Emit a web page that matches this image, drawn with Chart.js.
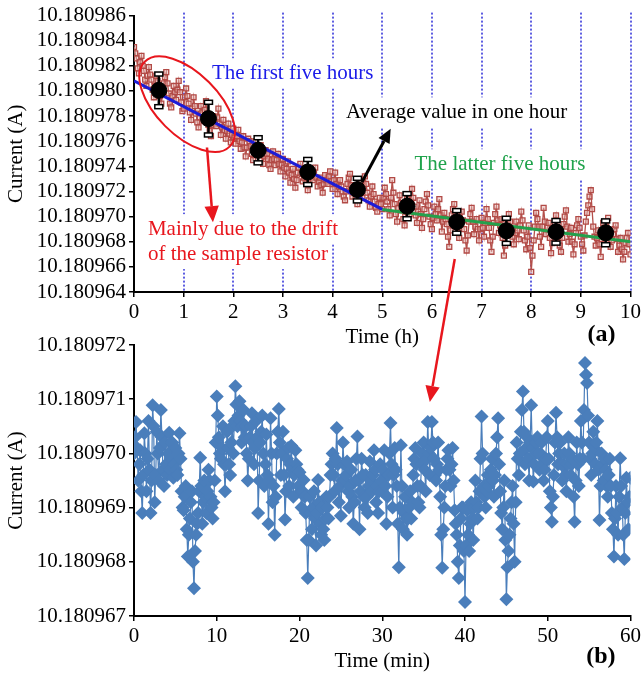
<!DOCTYPE html>
<html>
<head>
<meta charset="utf-8">
<script src="https://cdn.jsdelivr.net/npm/chart.js@4.4.1/dist/chart.umd.min.js"></script>
<style>
  html, body { margin: 0; padding: 0; background: #fff; }
  #wrap { position: relative; width: 644px; height: 679px; }
  canvas { position: absolute; left: 0; top: 0; }
</style>
</head>
<body>
<div id="wrap">
  <canvas id="chartA" width="644" height="679"></canvas>
  <canvas id="chartB" width="644" height="679"></canvas>
</div>
<script>
// --- DATA ---
// all currents are kept in µA above BASE_A, the labels add it back
const BASE_A = 10.18096;

// (a) raw record, one reading every 0.025 h (40 per row = 1 h)
const RAW_STEP_H = 0.025;
const rawA = [
  23.5, 23.0, 22.6, 21.8, 21.4, 22.3, 22.8, 22.0, 21.6, 20.9, 20.4, 21.2, 21.9, 21.3, 20.9, 20.1, 19.5, 20.4, 21.2, 20.8,
  20.3, 19.6, 19.0, 19.9, 20.6, 21.1, 21.5, 20.6, 19.8, 19.0, 18.7, 19.6, 20.4, 19.9, 19.3, 20.1, 20.8, 19.9, 19.1, 18.4,
  18.6, 19.5, 20.2, 19.6, 19.0, 18.3, 17.7, 18.6, 19.5, 18.8, 18.2, 17.5, 17.1, 17.9, 18.8, 18.3, 17.6, 18.5, 19.2, 18.2,
  17.3, 16.8, 16.4, 17.3, 18.0, 17.6, 17.2, 17.9, 18.6, 17.4, 16.5, 17.1, 17.7, 16.9, 16.2, 16.8, 17.4, 16.6, 15.9, 16.5,
  17.0, 16.3, 15.8, 16.4, 16.9, 16.0, 15.4, 15.9, 16.4, 15.5, 14.8, 15.5, 16.2, 16.0, 15.6, 15.0, 14.5, 15.2, 16.0, 15.4,
  14.9, 15.3, 15.7, 14.9, 14.2, 14.8, 15.3, 15.0, 14.6, 14.1, 13.8, 14.5, 15.2, 14.6, 14.1, 14.5, 15.0, 14.2, 13.6, 14.1,
  14.6, 13.9, 13.2, 13.8, 14.4, 13.5, 12.7, 13.3, 13.8, 13.0, 12.3, 12.9, 13.5, 13.9, 14.2, 13.4, 12.8, 13.1, 13.4, 12.7,
  12.1, 12.9, 13.7, 13.2, 12.9, 13.5, 13.9, 13.1, 12.4, 12.8, 13.1, 12.5, 11.9, 12.6, 13.3, 12.9, 12.6, 13.2, 13.6, 12.8,
  12.2, 12.9, 13.5, 12.6, 11.8, 12.4, 12.9, 12.4, 12.0, 11.6, 11.3, 12.0, 12.6, 13.1, 13.4, 12.5, 11.6, 11.9, 12.2, 11.5,
  11.0, 11.9, 12.7, 12.0, 11.5, 12.4, 13.2, 12.6, 11.9, 11.3, 10.8, 11.6, 12.4, 11.8, 11.2, 10.7, 10.4, 11.0, 11.5, 11.0,
  10.6, 11.5, 12.3, 11.8, 11.2, 10.6, 10.1, 11.5, 12.9, 11.9, 11.0, 10.2, 9.6, 10.7, 11.7, 11.1, 10.5, 9.8, 9.3, 10.4,
  11.4, 10.8, 10.2, 11.2, 12.2, 11.5, 10.8, 10.1, 9.5, 10.4, 11.3, 10.2, 9.1, 9.8, 10.6, 11.2, 11.8, 10.9, 10.0, 9.4,
  9.0, 9.9, 10.8, 10.2, 9.7, 10.6, 11.4, 10.1, 8.8, 9.6, 10.3, 9.8, 9.4, 8.4, 7.6, 8.9, 10.1, 10.6, 11.0, 10.1,
  9.2, 8.7, 8.3, 9.4, 10.4, 9.7, 9.0, 8.1, 7.3, 8.5, 9.6, 10.2, 10.7, 9.6, 8.6, 9.2, 9.8, 9.0, 8.1, 9.0,
  9.9, 9.1, 8.4, 9.5, 10.6, 9.8, 9.1, 8.1, 7.2, 8.4, 9.5, 10.2, 10.8, 9.7, 8.7, 9.3, 9.8, 8.3, 6.9, 7.7,
  8.5, 9.4, 10.2, 9.6, 9.0, 8.4, 7.8, 8.7, 9.6, 8.9, 8.2, 9.3, 10.4, 9.7, 8.9, 8.1, 7.4, 8.4, 9.3, 7.5,
  5.6, 6.9, 8.1, 9.2, 10.3, 9.8, 9.2, 8.4, 7.6, 9.2, 10.7, 9.6, 8.6, 9.1, 9.5, 8.3, 7.1, 7.9, 8.8, 9.5,
  10.1, 9.2, 8.3, 7.7, 7.2, 8.3, 9.4, 10.0, 10.5, 9.2, 8.0, 8.6, 9.1, 8.0, 7.0, 7.8, 8.7, 9.3, 9.8, 9.1,
  8.4, 7.8, 7.3, 8.5, 9.6, 10.3, 10.9, 11.6, 12.1, 10.6, 9.2, 8.4, 7.7, 8.3, 8.9, 7.8, 6.8, 8.2, 9.5, 8.8,
  8.1, 9.0, 9.9, 8.7, 7.6, 8.1, 8.6, 9.0, 9.3, 8.2, 7.2, 7.7, 8.3, 7.4, 6.6, 7.2, 7.9, 8.3, 8.7, 7.8,
  7.0
];

// (a) hourly averages with their spread
const hourMid = [0.5, 1.5, 2.5, 3.5, 4.5, 5.5, 6.5, 7.5, 8.5, 9.5];
const hourMean = [20.05, 17.8, 15.28, 13.55, 12.15, 10.83, 9.58, 8.87, 8.79, 8.71];
const hourErr = [1.3, 1.3, 1.0, 1.0, 0.9, 1.0, 0.9, 1.0, 0.9, 0.95];

// (a) straight-line trends
const fitFirst = [[0, 20.8], [5, 10.57]];
const fitLatter = [[5, 10.57], [10, 8.0]];

// (a) hour markers
const hourMarks = [1, 2, 3, 4, 5, 6, 7, 8, 9, 10];

// (b) one hour of the latter record, one reading every 0.125 min (8 per row = 1 min)
const RAW_STEP_MIN = 0.125;
const currentB = [
  10.0, 10.3, 10.58, 10.1, 9.5, 9.8, 10.06, 9.3,
  8.9, 9.6, 10.37, 10.0, 9.3, 9.9, 10.6, 9.7,
  8.9, 9.5, 10.89, 10.5, 9.1, 9.6, 10.4, 10.0,
  9.5, 10.1, 10.8, 10.3, 9.7, 9.4, 10.2, 9.8,
  9.6, 10.0, 10.38, 9.7, 9.9, 10.2, 9.55, 9.8,
  10.1, 9.7, 9.6, 10.0, 10.37, 9.9, 9.3, 9.0,
  8.95, 9.2, 9.4, 8.6, 8.1, 8.5, 8.8, 9.1,
  9.3, 8.0, 7.51, 8.2, 8.5, 8.7, 8.9, 9.3,
  9.92, 9.4, 8.7, 9.1, 9.5, 9.2, 8.9, 9.3,
  9.7, 9.5, 9.2, 9.0, 8.8, 9.1, 9.5, 10.2,
  11.05, 10.7, 10.3, 10.0, 9.9, 10.1, 10.5, 9.8,
  9.3, 9.8, 10.4, 10.1, 9.8, 9.6, 10.2, 10.5,
  10.0, 10.6, 11.24, 10.9, 10.5, 10.7, 10.96, 10.6,
  10.2, 10.5, 10.8, 10.3, 10.5, 10.0, 9.5, 9.9,
  10.3, 10.5, 10.74, 10.2, 9.8, 10.1, 10.6, 10.3,
  8.9, 9.5, 10.2, 10.4, 10.7, 10.0, 9.4, 9.8,
  10.35, 9.6, 8.7, 9.5, 10.65, 10.0, 9.1, 9.4,
  8.5, 9.2, 10.0, 10.4, 10.82, 10.2, 9.6, 10.0,
  10.4, 9.6, 8.78, 9.3, 9.9, 10.1, 9.4, 9.8,
  10.14, 9.7, 9.2, 9.6, 10.06, 9.8, 9.7, 9.4,
  9.65, 9.3, 9.0, 9.3, 9.51, 9.2, 8.9, 8.4,
  7.7, 8.4, 9.2, 8.9, 8.6, 9.0, 9.3, 8.8,
  8.3, 8.9, 9.51, 9.1, 8.7, 8.5, 9.0, 8.6,
  8.4, 8.8, 9.2, 9.0, 8.8, 9.2, 9.6, 9.8,
  10.0, 9.6, 9.3, 9.9, 10.47, 9.8, 9.1, 9.4,
  8.85, 9.5, 10.2, 9.8, 9.5, 9.6, 9.85, 9.3,
  9.0, 9.4, 9.7, 9.2, 8.7, 9.1, 9.5, 9.9,
  10.31, 9.5, 8.6, 9.3, 9.9, 9.6, 9.2, 9.0,
  9.6, 9.2, 8.9, 9.4, 9.85, 9.5, 9.3, 9.6,
  10.06, 9.7, 9.1, 9.4, 8.9, 9.3, 9.8, 9.5,
  9.3, 9.7, 10.06, 9.4, 8.7, 9.2, 9.6, 10.0,
  10.56, 9.8, 9.0, 9.6, 10.1, 9.7, 9.4, 8.7,
  7.9, 9.0, 10.15, 9.4, 8.6, 8.9, 9.2, 8.8,
  8.5, 8.8, 9.0, 9.3, 8.8, 9.1, 9.6, 9.9,
  10.1, 9.8, 9.4, 9.1, 9.0, 9.4, 9.8, 10.0,
  10.2, 9.7, 9.3, 9.9, 10.58, 10.0, 9.6, 10.1,
  10.58, 10.2, 9.9, 9.6, 9.5, 9.8, 10.2, 9.7,
  9.2, 8.5, 7.89, 8.6, 9.0, 9.4, 9.7, 9.9,
  10.06, 9.7, 9.4, 9.8, 10.1, 9.5, 8.95, 8.7,
  8.5, 8.0, 7.7, 8.3, 8.8, 9.0, 9.0, 8.2,
  7.26, 8.3, 8.95, 8.5, 8.2, 8.7, 9.1, 8.8,
  8.4, 9.0, 9.5, 9.1, 8.8, 9.0, 9.3, 9.9,
  10.68, 10.0, 9.4, 9.2, 9.0, 9.3, 9.6, 9.4,
  9.5, 9.7, 9.9, 9.5, 9.2, 9.6, 10.0, 10.3,
  10.65, 9.8, 9.3, 8.9, 8.6, 9.0, 9.5, 8.4,
  7.31, 7.9, 8.2, 8.5, 8.8, 9.1, 9.4, 8.7,
  8.0, 9.1, 10.2, 9.9, 9.6, 10.0, 10.4, 10.8,
  11.14, 10.4, 9.8, 10.1, 10.3, 9.9, 9.5, 10.2,
  10.89, 10.1, 9.48, 9.8, 10.0, 10.2, 10.3, 10.0,
  9.7, 10.0, 10.2, 9.8, 9.5, 9.7, 9.9, 10.3,
  10.6, 9.9, 9.3, 9.0, 8.74, 9.2, 9.6, 10.2,
  10.75, 10.3, 9.8, 10.0, 10.2, 9.8, 9.5, 9.8,
  10.0, 9.6, 9.3, 9.8, 10.3, 10.0, 9.6, 9.8,
  9.9, 9.2, 8.74, 9.5, 10.2, 9.8, 9.4, 9.9,
  10.6, 10.2, 9.9, 10.8, 11.67, 11.45, 11.3, 10.7,
  10.2, 9.9, 9.6, 10.0, 10.4, 10.1, 9.8, 10.2,
  10.6, 9.7, 8.77, 9.4, 10.0, 9.8, 9.5, 9.9,
  9.7, 9.4, 9.2, 9.6, 9.9, 9.4, 8.9, 8.6,
  8.1, 8.8, 9.4, 8.9, 8.5, 9.2, 9.91, 9.4,
  9.0, 8.5, 8.05, 8.9, 9.55, 9.1, 8.6, 9.2,
  9.55
];

// --- NOTES ON PANEL (a), placed in data units ---
const notesA = [
  { text: 'The first five hours', x: 1.57, y: 21.4, color: '#1c1ce8' },
  { text: 'Average value in one hour', x: 4.27, y: 18.3, color: '#000000' },
  { text: 'The latter five hours', x: 5.65, y: 14.17, color: '#20a34c' },
  { text: 'Mainly due to the drift', x: 0.28, y: 9.0, color: '#e8161d' },
  { text: 'of the sample resistor', x: 0.28, y: 7.02, color: '#e8161d' }
];

// --- STYLE ---
const FAMILY = "'Liberation Serif', 'Times New Roman', serif";
const tickFont = { family: FAMILY, size: 21 };
const noteFont = `21px ${FAMILY}`;
Chart.defaults.font.family = FAMILY;
Chart.defaults.color = '#000';

const ampLabel = v => (BASE_A + v * 1e-6).toFixed(6);

function axisX(min, max, step, title, height) {
  return {
    type: 'linear', min, max,
    ticks: { stepSize: step, font: tickFont, color: '#000', padding: 3, maxRotation: 0, autoSkip: false },
    grid: { drawOnChartArea: false, drawTicks: true, tickLength: 5, color: '#000', lineWidth: 1.5 },
    border: { display: true, color: '#000', width: 2 },
    title: { display: true, text: title, font: tickFont, color: '#000', padding: { top: 0, bottom: 0 } },
    afterFit: s => { s.height = height; }
  };
}

function axisY(min, max, step) {
  return {
    min, max,
    ticks: { stepSize: step, font: tickFont, color: '#000', padding: 3, autoSkip: false, callback: ampLabel },
    grid: { drawOnChartArea: false, drawTicks: true, tickLength: 5, color: '#000', lineWidth: 1.5 },
    border: { display: true, color: '#000', width: 2 },
    title: { display: true, text: 'Current (A)', font: tickFont, color: '#000', padding: { top: 4, bottom: 0 } },
    afterFit: s => { s.width = 134; }
  };
}

function arrow(ctx, x0, y0, x1, y1, color, width, head) {
  const ang = Math.atan2(y1 - y0, x1 - x0);
  const bx = x1 - Math.cos(ang) * head, by = y1 - Math.sin(ang) * head;
  ctx.save();
  ctx.strokeStyle = color; ctx.fillStyle = color; ctx.lineWidth = width;
  ctx.beginPath(); ctx.moveTo(x0, y0); ctx.lineTo(bx, by); ctx.stroke();
  const w = head * 0.45;
  ctx.beginPath();
  ctx.moveTo(x1, y1);
  ctx.lineTo(bx + Math.sin(ang) * w, by - Math.cos(ang) * w);
  ctx.lineTo(bx - Math.sin(ang) * w, by + Math.cos(ang) * w);
  ctx.closePath(); ctx.fill();
  ctx.restore();
}

// --- PANEL (a) DRAWING ---
const panelA = {
  id: 'panelA',
  beforeDatasetsDraw(chart) {
    const { ctx, chartArea: a, scales: { x, y } } = chart;
    ctx.save();
    ctx.strokeStyle = '#2a2ad8';
    ctx.lineWidth = 1.5;
    ctx.setLineDash([2, 2]);
    hourMarks.forEach(h => {
      const px = Math.round(x.getPixelForValue(h));
      ctx.beginPath(); ctx.moveTo(px, a.top - 3); ctx.lineTo(px, a.bottom); ctx.stroke();
    });
    ctx.setLineDash([]);
    // blank out behind the notes so the hour lines break around them
    ctx.font = noteFont;
    ctx.fillStyle = '#fff';
    notesA.forEach(n => {
      const w = ctx.measureText(n.text).width;
      ctx.fillRect(x.getPixelForValue(n.x) - 4, y.getPixelForValue(n.y) - 15, w + 8, 30);
    });
    ctx.restore();
  },
  afterDatasetsDraw(chart) {
    const { ctx, scales: { x, y } } = chart;
    ctx.save();
    ctx.strokeStyle = '#000';
    hourMid.forEach((h, i) => {
      const px = x.getPixelForValue(h);
      const top = y.getPixelForValue(hourMean[i] + hourErr[i]);
      const bot = y.getPixelForValue(hourMean[i] - hourErr[i]);
      ctx.lineWidth = 2.5;
      ctx.beginPath(); ctx.moveTo(px, top); ctx.lineTo(px, bot); ctx.stroke();
      ctx.lineWidth = 1.5;
      [top, bot].forEach(cy => {
        ctx.fillStyle = '#fff';
        ctx.fillRect(px - 4, cy - 2, 8, 4);
        ctx.strokeRect(px - 4, cy - 2, 8, 4);
      });
    });
    ctx.restore();
  },
  afterDraw(chart) {
    const { ctx, chartArea: a, scales: { x, y } } = chart;
    ctx.save();
    ctx.font = noteFont;
    ctx.textBaseline = 'middle';
    ctx.textAlign = 'left';
    notesA.forEach(n => {
      ctx.fillStyle = n.color;
      ctx.fillText(n.text, x.getPixelForValue(n.x), y.getPixelForValue(n.y));
    });

    // ellipse around the first two hours
    ctx.strokeStyle = '#e8161d';
    ctx.lineWidth = 2;
    ctx.beginPath();
    ctx.ellipse(x.getPixelForValue(1.07), y.getPixelForValue(18.95), 60, 31, Math.PI / 4, 0, Math.PI * 2);
    ctx.stroke();
    ctx.restore();

    arrow(ctx, x.getPixelForValue(1.47), y.getPixelForValue(15.5),
      x.getPixelForValue(1.59), y.getPixelForValue(9.56), '#e8161d', 2.5, 16);
    arrow(ctx, x.getPixelForValue(4.59), y.getPixelForValue(12.74),
      x.getPixelForValue(5.17), y.getPixelForValue(17.0), '#000', 3, 14);

    ctx.save();
    ctx.font = `bold 24px ${FAMILY}`;
    ctx.fillStyle = '#000';
    ctx.textAlign = 'right';
    ctx.textBaseline = 'middle';
    ctx.fillText('(a)', a.right - 15, a.bottom + 43);
    ctx.restore();
  }
};

const chartA = new Chart(document.getElementById('chartA'), {
  type: 'line',
  data: {
    datasets: [
      {
        data: hourMid.map((h, i) => ({ x: h, y: hourMean[i] })),
        showLine: false, pointRadius: 8, pointBackgroundColor: '#000', pointBorderColor: '#000', order: 0
      },
      {
        data: fitFirst.map(p => ({ x: p[0], y: p[1] })),
        borderColor: '#1c1cd8', borderWidth: 3, pointRadius: 0, order: 1
      },
      {
        data: fitLatter.map(p => ({ x: p[0], y: p[1] })),
        borderColor: '#24a04c', borderWidth: 3, pointRadius: 0, order: 1
      },
      {
        data: rawA.map((v, i) => ({ x: i * RAW_STEP_H, y: v })),
        borderColor: '#b4504b', borderWidth: 1.3,
        pointStyle: 'rect', pointRadius: 3.5, pointBorderWidth: 1.3,
        pointBorderColor: '#b24a46', pointBackgroundColor: 'rgba(230,180,175,0.5)', order: 2
      }
    ]
  },
  options: {
    responsive: false, animation: false, devicePixelRatio: 1,
    layout: { padding: { left: 0, top: 15, right: 13, bottom: 329 } },
    plugins: { legend: { display: false }, tooltip: { enabled: false } },
    scales: { x: axisX(0, 10, 1, 'Time (h)', 58), y: axisY(4, 26, 2) }
  },
  plugins: [panelA]
});

// --- PANEL (b) DRAWING ---
const panelB = {
  id: 'panelB',
  afterDraw(chart) {
    const { ctx, chartArea: a, scales: { x, y } } = chart;
    // arrow from the latter five hours of (a) down to (b)
    arrow(ctx, chartA.scales.x.getPixelForValue(6.46), chartA.scales.y.getPixelForValue(6.62),
      x.getPixelForValue(35.75), y.getPixelForValue(10.95), '#e8161d', 2.5, 16);
    ctx.save();
    ctx.font = `bold 24px ${FAMILY}`;
    ctx.fillStyle = '#000';
    ctx.textAlign = 'right';
    ctx.textBaseline = 'middle';
    ctx.fillText('(b)', a.right - 15, a.bottom + 41);
    ctx.restore();
  }
};

new Chart(document.getElementById('chartB'), {
  type: 'line',
  data: {
    datasets: [{
      data: currentB.map((v, i) => ({ x: i * RAW_STEP_MIN, y: v })),
      borderColor: '#4a7ebb', borderWidth: 1.2,
      pointStyle: 'rectRot', pointRadius: 7, pointBorderWidth: 0,
      pointBackgroundColor: '#4a7ebb'
    }]
  },
  options: {
    responsive: false, animation: false, devicePixelRatio: 1,
    layout: { padding: { left: 0, top: 345, right: 13, bottom: 5 } },
    plugins: { legend: { display: false }, tooltip: { enabled: false } },
    scales: { x: axisX(0, 60, 10, 'Time (min)', 58), y: axisY(7, 12, 1) }
  },
  plugins: [panelB]
});
</script>
</body>
</html>
